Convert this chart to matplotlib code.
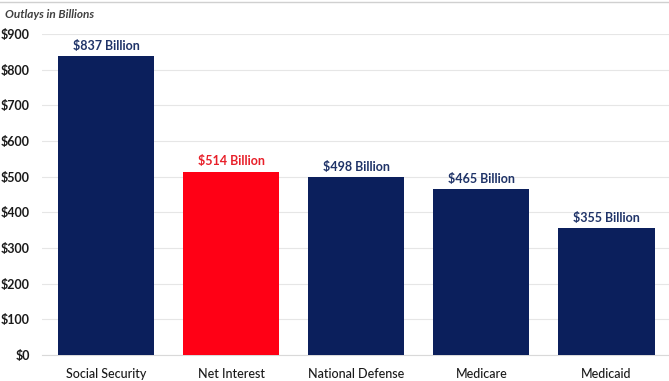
import matplotlib
matplotlib.use("Agg")
import matplotlib.pyplot as plt
import matplotlib.ticker as mtick

plt.rcParams["font.family"] = ["Lato", "DejaVu Sans"]

programs = ["Social Security", "Net Interest", "National Defense", "Medicare", "Medicaid"]
outlays = [837, 514, 498, 465, 355]
bar_colors = ["#0b1f5c", "#ff0015", "#0b1f5c", "#0b1f5c", "#0b1f5c"]
label_colors = ["#1f3368", "#e8202a", "#1f3368", "#1f3368", "#1f3368"]
y_ticks = [0, 100, 200, 300, 400, 500, 600, 700, 800, 900]

fig = plt.figure(figsize=(6.69, 3.81), dpi=100)
ax = fig.add_axes([0.063, 0.068, 0.937, 0.843])

x = range(len(programs))
ax.bar(x, outlays, width=0.77, color=bar_colors, zorder=3)
for i, v in enumerate(outlays):
    ax.text(i, v + 12, "${} Billion".format(v), ha="center", va="bottom",
            fontsize=9, fontweight="bold", color=label_colors[i])

ax.set_xlim(-0.51, 4.5)
ax.set_ylim(0, 900)
ax.set_yticks(y_ticks)
ax.yaxis.set_major_formatter(mtick.StrMethodFormatter("${x:,.0f}"))
ax.set_xticks(list(x))
ax.set_xticklabels(programs)
ax.grid(axis="y", color="#e6e6e6", linewidth=0.8, zorder=0)
for s in ["top", "right", "left"]:
    ax.spines[s].set_visible(False)
ax.spines["bottom"].set_color("#d9d9d9")
ax.tick_params(axis="both", length=0, labelsize=9, colors="#1a1a1a")
ax.tick_params(axis="x", pad=9)
ax.tick_params(axis="y", pad=9)
for lbl in ax.get_yticklabels():
    lbl.set_fontweight("bold")
for lbl in ax.get_xticklabels():
    lbl.set_fontweight("medium")

fig.text(0.008, 0.963, "Outlays in Billions", fontsize=8.5, fontstyle="italic",
         fontweight="bold", color="#404040", va="center")
fig.add_artist(plt.Line2D([0, 1], [0.995, 0.995], color="#d0d0d0", linewidth=1))

plt.savefig("out.png", dpi=100)
